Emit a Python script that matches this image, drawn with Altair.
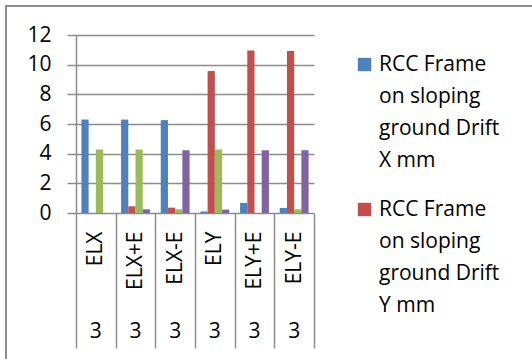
import altair as alt
import pandas as pd

categories = ["ELX", "ELX+E", "ELX-E", "ELY", "ELY+E", "ELY-E"]
group_label = ["3", "3", "3", "3", "3", "3"]
series = [
    "RCC Frame on sloping ground Drift X mm",
    "RCC Frame on sloping ground Drift Y mm",
    "Series 3",
    "Series 4",
]
drift_x = [6.30, 6.30, 6.26, 0.10, 0.68, 0.34]
drift_y = [0.00, 0.45, 0.36, 9.57, 10.96, 10.92]
series3 = [4.28, 4.28, 0.25, 4.28, 0.00, 0.25]
series4 = [0.00, 0.25, 4.23, 0.23, 4.23, 4.23]
colors = ["#4F81BD", "#C0504D", "#9BBB59", "#8064A2"]

rows = []
for s, vals in zip(series, [drift_x, drift_y, series3, series4]):
    for c, v in zip(categories, vals):
        rows.append({"cat": c, "series": s, "value": v})
df = pd.DataFrame(rows)
lab = pd.DataFrame({"cat": categories, "grp": group_label})

W, H = 238, 178
FONT = "Open Sans"
GRID = "#8C8C8C"
FS = 21

xscale = alt.Scale(domain=categories, paddingInner=0, paddingOuter=0)

bars = alt.Chart(df).mark_bar().encode(
    x=alt.X("cat:N", scale=xscale, sort=categories,
            axis=alt.Axis(title=None, labelAngle=270, labelFont=FONT, labelFontSize=FS,
                          labelColor="black", labelPadding=-117, tickBand="extent",
                          tickSize=135, tickColor=GRID, tickWidth=1.5, domain=False)),
    xOffset=alt.XOffset("series:N", sort=series,
                        scale=alt.Scale(paddingOuter=0.75, paddingInner=0)),
    y=alt.Y("value:Q", scale=alt.Scale(domain=[0, 12], nice=False),
            axis=alt.Axis(title=None, values=[0, 2, 4, 6, 8, 10, 12], labelFont=FONT,
                          labelFontSize=FS, labelColor="black", labelPadding=16,
                          tickSize=9, tickColor=GRID, gridColor=GRID, gridWidth=1.5,
                          tickWidth=1.5, domainColor=GRID, domainWidth=1.5)),
    color=alt.Color("series:N", sort=series,
                    scale=alt.Scale(domain=series, range=colors),
                    legend=alt.Legend(title=None, values=series[:2], orient="none",
                                      legendX=278, legendY=8,
                                      symbolType="M-1,0.64 H1 V2.64 H-1 Z",
                                      symbolSize=180, symbolStrokeWidth=0,
                                      labelFont=FONT, labelFontSize=FS, labelColor="black",
                                      labelBaseline="top", labelOffset=4, labelLimit=300,
                                      rowPadding=17,
                                      labelExpr="split(replace(datum.label, /(\\S+ \\S+) /g, '$1|'), '|')")),
)

grp = alt.Chart(lab).mark_text(font=FONT, fontSize=FS, color="black", baseline="middle").encode(
    x=alt.X("cat:N", scale=xscale, sort=categories),
    y=alt.value(H + 119),
    text="grp:N",
)

border = alt.Chart(lab).mark_rect(fill=None, stroke=GRID, strokeWidth=1.5).encode(
    x=alt.value(-70), x2=alt.value(600), y=alt.value(-29), y2=alt.value(400),
)

chart = alt.layer(bars, grp, border).properties(
    width=W, height=H, autosize="none",
    padding={"left": 76, "top": 35, "right": 532 - 76 - W, "bottom": 359 - 35 - H},
).configure(background="white", style={"guide-label": {"lineHeight": 32}}).configure_view(stroke=None)

chart.save("out.html", embed_options={"renderer": "svg", "actions": False})
